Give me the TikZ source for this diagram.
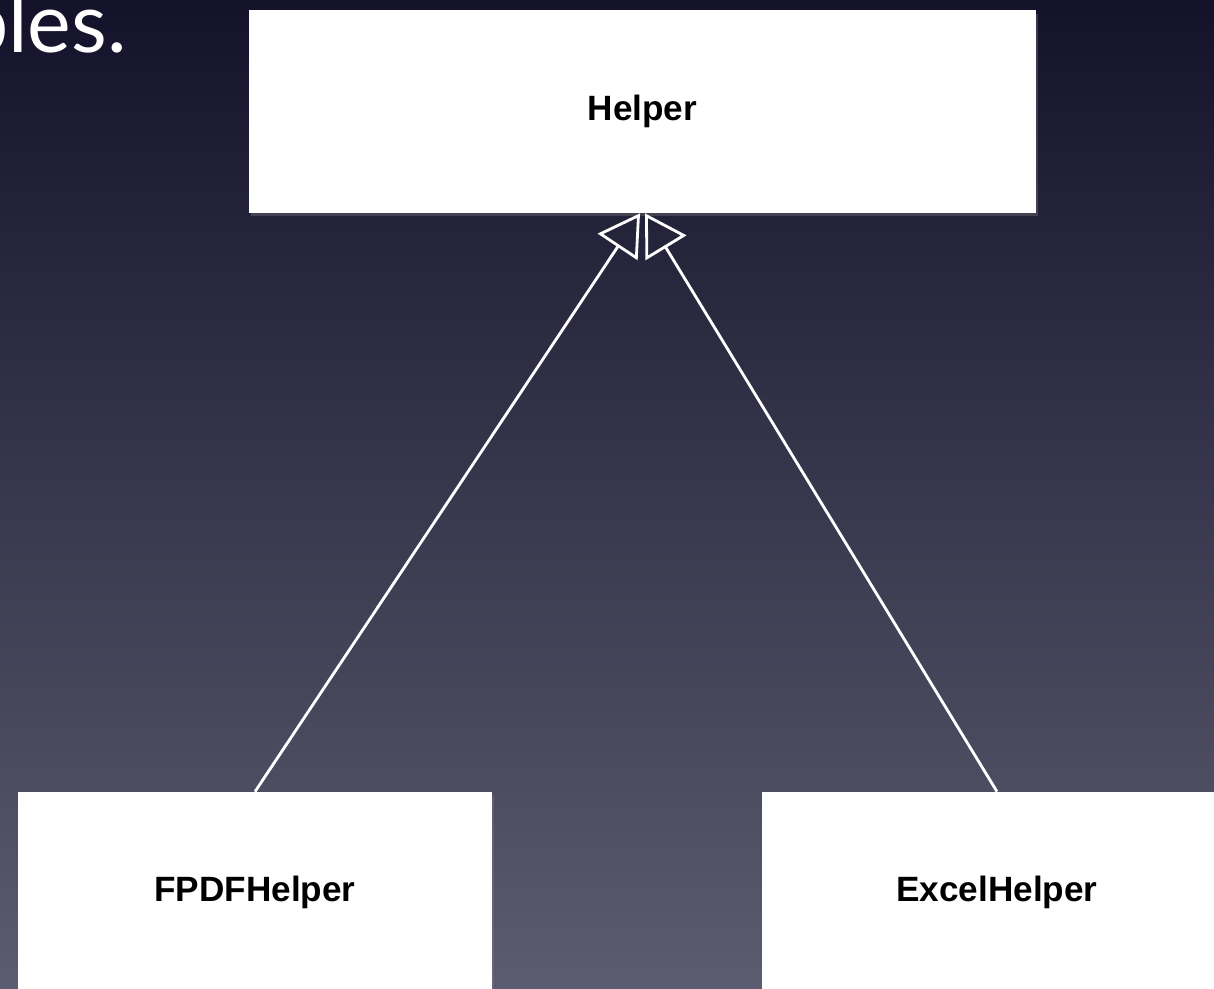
\documentclass[tikz,border=0pt]{standalone}
\usepackage{fontspec}
\setmainfont{Liberation Sans}
\newfontfamily\slidefont{Lato}
\usetikzlibrary{arrows.meta,calc,shadows}
\definecolor{bgtop}{RGB}{19,18,42}
\definecolor{bgbottom}{RGB}{92,92,112}
\tikzset{
  classbox/.style={fill=white, inner sep=0pt, text=black,
    font=\fontsize{20}{24}\selectfont\bfseries,
    drop shadow={opacity=0.35, shadow xshift=1pt, shadow yshift=-2pt}},
  inherits/.style={draw=white, line width=1.6pt,
    -{Triangle[open, length=23pt, width=27pt, line width=1.6pt]}}
}
\begin{document}
\begin{tikzpicture}[x=0.02cm, y=-0.02cm]
  \clip (0,0) rectangle (1214,989);
  \shade[top color=bgtop, bottom color=bgbottom] (0,0) rectangle (1214,989);
  % slide title, cut off at the left
  \node[anchor=base east, inner sep=0pt, text=white, font=\slidefont\fontsize{47}{52}\selectfont] (title) at (127,53) {bles.};
  % classes
  \node[classbox, minimum width=15.74cm, minimum height=4.06cm] (helper) at (642.5,111.5) {Helper};
  \node[classbox, minimum width=9.48cm, minimum height=4cm] (fpdf) at (255,892) {FPDFHelper};
  \node[classbox, minimum width=9.4cm, minimum height=4cm] (excel) at (997,892) {ExcelHelper};
  % generalisation
  \draw[inherits] (fpdf.north) -- ($(helper.south)+(-2.5,0)$);
  \draw[inherits] (excel.north) -- ($(helper.south)+(2.5,0)$);
\end{tikzpicture}
\end{document}
